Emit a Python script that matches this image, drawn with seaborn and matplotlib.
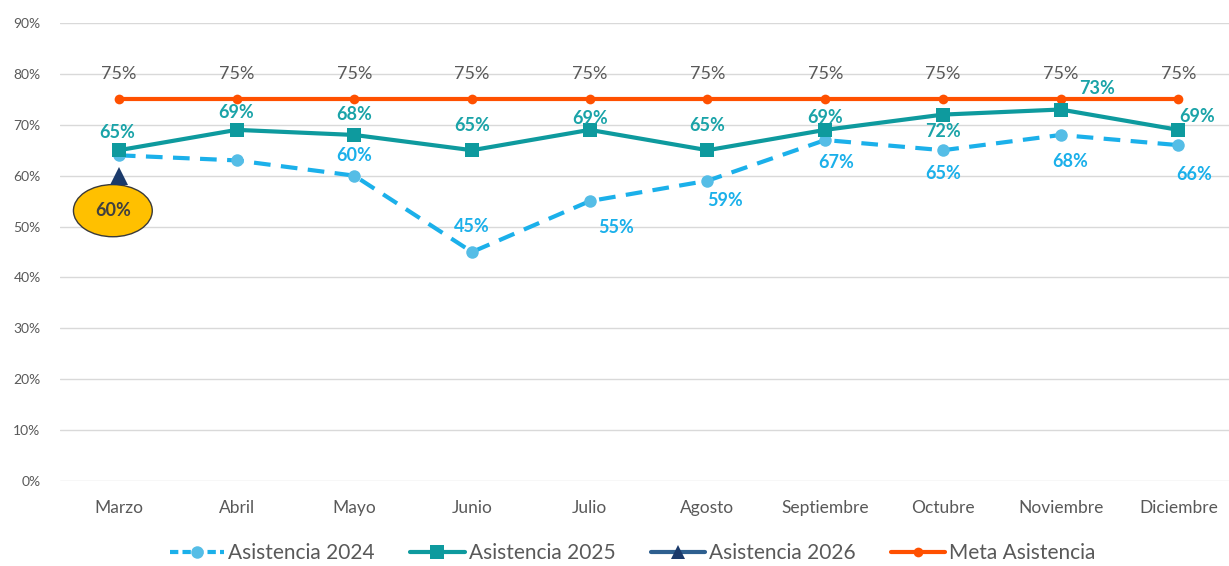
import numpy as np
import pandas as pd
import matplotlib.pyplot as plt
import seaborn as sns
from matplotlib.lines import Line2D
from matplotlib.ticker import PercentFormatter

meses = ['Marzo', 'Abril', 'Mayo', 'Junio', 'Julio', 'Agosto',
         'Septiembre', 'Octubre', 'Noviembre', 'Diciembre']
asistencia_2024 = [0.64, 0.63, 0.60, 0.45, 0.55, 0.59, 0.67, 0.65, 0.68, 0.66]
asistencia_2025 = [0.65, 0.69, 0.68, 0.65, 0.69, 0.65, 0.69, 0.72, 0.73, 0.69]
asistencia_2026 = [0.60] + [np.nan] * 9
meta_asistencia = [0.75] * 10

# label offsets in pixels (dx, dy); None = no label
off_2024 = [None, None, (0, 20), (0, 25), (26, -26), (18, -20),
            (11, -22), (0, -23), (10, -27), (16, -29)]
off_2025 = [(-2, 18), (0, 17), (0, 20), (0, 25), (0, 11), (0, 25),
            (0, 12), (0, -17), (36, 21), (19, 13)]

C24 = '#1BB0EA'
C24M = '#55BDE6'
C25 = '#0E9A9E'
C25T = '#1AA3A8'
C26 = '#1B3A6B'
CMETA = '#FF5000'
GRAY = '#595959'

df = pd.DataFrame({'x': np.arange(len(meses)),
                   '2024': asistencia_2024, '2025': asistencia_2025,
                   '2026': asistencia_2026, 'meta': meta_asistencia})

sns.set_style('white')
plt.rcParams['font.family'] = ['Lato', 'DejaVu Sans']

fig = plt.figure(figsize=(12.29, 5.66), dpi=100)
ax = fig.add_axes([60 / 1229, 85 / 566, 1169 / 1229, 458 / 566])

sns.lineplot(data=df, x='x', y='meta', ax=ax, color=CMETA, lw=3,
             marker='o', markersize=7, markeredgewidth=0, zorder=3)
sns.lineplot(data=df, x='x', y='2025', ax=ax, color=C25, lw=3,
             marker='s', markersize=10, markeredgewidth=0, zorder=4)
sns.lineplot(data=df, x='x', y='2024', ax=ax, color=C24, lw=3,
             linestyle=(0, (4, 2.5)), marker='o', markersize=9,
             markerfacecolor=C24M, markeredgewidth=0, zorder=2)
sns.lineplot(data=df, x='x', y='2026', ax=ax, color=C26, lw=3,
             marker='^', markersize=13, markeredgewidth=0, zorder=5)

for i in range(len(meses)):
    ax.annotate(f'{meta_asistencia[i]:.0%}', (i, meta_asistencia[i]),
                xytext=(0, 25), textcoords='offset pixels', ha='center',
                va='center', fontsize=13, color=GRAY)
    if off_2025[i] is not None:
        ax.annotate(f'{asistencia_2025[i]:.0%}', (i, asistencia_2025[i]),
                    xytext=off_2025[i], textcoords='offset pixels', ha='center',
                    va='center', fontsize=13, fontweight='bold', color=C25T, zorder=6)
    if off_2024[i] is not None:
        ax.annotate(f'{asistencia_2024[i]:.0%}', (i, asistencia_2024[i]),
                    xytext=off_2024[i], textcoords='offset pixels', ha='center',
                    va='center', fontsize=13, fontweight='bold', color=C24, zorder=6)

ax.annotate(f'{asistencia_2026[0]:.0%}', (0, asistencia_2026[0]),
            xytext=(-6, -35), textcoords='offset pixels', ha='center',
            va='center', fontsize=13, fontweight='bold', color='#404040',
            bbox=dict(boxstyle='ellipse,pad=0.55', fc='#FFC000', ec='#3A3A3A', lw=1))

ax.set_xlim(-0.5, 9.43)
ax.set_ylim(0, 0.9)
ax.set_yticks(np.arange(0, 0.91, 0.1))
ax.yaxis.set_major_formatter(PercentFormatter(1.0, decimals=0))
ax.set_xticks(df['x'])
ax.set_xticklabels(meses)
ax.tick_params(axis='y', labelsize=10, labelcolor=GRAY, length=0, pad=14)
ax.tick_params(axis='x', labelsize=12.5, labelcolor=GRAY, length=0, pad=14)
ax.grid(axis='y', color='#D9D9D9', lw=1)
ax.set_axisbelow(True)
ax.set_xlabel('')
ax.set_ylabel('')
for s in ax.spines.values():
    s.set_visible(False)

handles = [
    Line2D([], [], color=C24, lw=3, linestyle=(0, (2, 1)), marker='o',
           markersize=9, markerfacecolor=C24M, markeredgewidth=0),
    Line2D([], [], color=C25, lw=3, marker='s', markersize=10, markeredgewidth=0),
    Line2D([], [], color='#2E5F8F', lw=3, marker='^', markersize=10,
           markerfacecolor=C26, markeredgewidth=0),
    Line2D([], [], color=CMETA, lw=3, marker='o', markersize=7, markeredgewidth=0),
]
labels = ['Asistencia 2024', 'Asistencia 2025', 'Asistencia 2026', 'Meta Asistencia']
fig.legend(handles, labels, loc='center', bbox_to_anchor=(0.515, 13 / 566),
           ncol=4, frameon=False, fontsize=15, handlelength=2.6, columnspacing=1.7,
           handletextpad=0.2, labelcolor=GRAY)

fig.savefig('out.png', dpi=100)
